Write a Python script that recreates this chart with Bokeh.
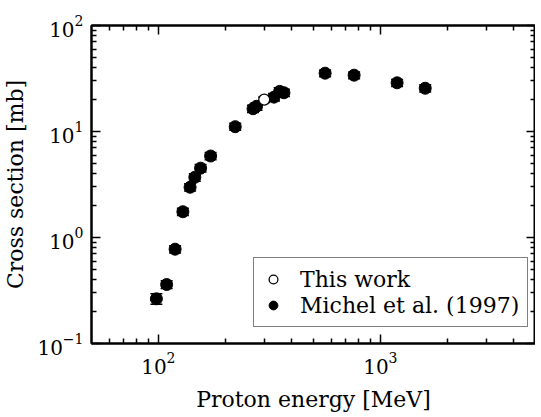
from bokeh.plotting import figure
from bokeh.models import (ColumnDataSource, LogAxis, FixedTicker, LogTicker, LogTickFormatter,
                          CustomJSTickFormatter, Whisker, TeeHead, Legend, LegendItem)
from bokeh.embed import file_html
from bokeh.resources import INLINE

# Michel et al. (1997)
michel_energy = [98, 109, 119, 129, 139, 146, 155, 172, 222, 267, 277, 332, 352, 368, 564, 762, 1190, 1593]
michel_xs = [0.264, 0.360, 0.776, 1.75, 2.98, 3.70, 4.51, 5.87, 11.1, 16.4, 17.3, 21.1, 23.9, 23.2, 35.5, 34.0, 28.8, 25.6]
michel_err = [0.03, 0.03, 0.06, 0.14, 0.24, 0.30, 0.36, 0.45, 0.85, 1.3, 1.4, 1.7, 1.9, 1.8, 2.6, 2.5, 2.2, 2.0]

# This work
this_energy = [300]
this_xs = [20.0]
this_err = [1.2]

x_major = [100, 1000]
x_minor = [60, 70, 80, 90, 200, 300, 400, 500, 600, 700, 800, 900, 2000, 3000, 4000]
y_major = [0.1, 1, 10, 100]
y_minor = [0.2, 0.3, 0.4, 0.5, 0.6, 0.7, 0.8, 0.9, 2, 3, 4, 5, 6, 7, 8, 9,
           20, 30, 40, 50, 60, 70, 80, 90]

FONT = "DejaVu Serif"

p = figure(frame_width=444, frame_height=318, x_axis_type="log", y_axis_type="log",
           x_range=(50, 5000), y_range=(0.1, 100),
           output_backend="svg", toolbar_location=None,
           min_border_left=88, min_border_right=0, min_border_top=25, min_border_bottom=10)
p.xgrid.visible = False
p.ygrid.visible = False
p.outline_line_color = "black"
p.outline_line_width = 2
p.background_fill_color = "white"
p.border_fill_color = "white"

def style(ax, labels=True):
    ax.axis_line_color = "black"
    ax.axis_line_width = 2
    ax.major_tick_in = 9
    ax.major_tick_out = 0
    ax.minor_tick_in = 5
    ax.minor_tick_out = 0
    ax.major_tick_line_width = 1.5
    ax.minor_tick_line_width = 1.5
    ax.major_tick_line_color = "black"
    ax.minor_tick_line_color = "black"
    if labels:
        ax.major_label_text_font = FONT
        ax.major_label_text_font_size = "20px"
        ax.major_label_text_color = "black"
        ax.axis_label_text_font = FONT
        ax.axis_label_text_font_size = "22px"
        ax.axis_label_text_font_style = "normal"
        ax.axis_label_text_color = "black"
    else:
        ax.formatter = CustomJSTickFormatter(code="return ''")
        ax.major_label_text_color = None
        ax.major_label_text_font_size = "1px"
        ax.major_label_standoff = 0

xa = p.xaxis[0]
xa.ticker = FixedTicker(ticks=x_major, minor_ticks=x_minor)
xa.formatter = LogTickFormatter(ticker=LogTicker())
xa.axis_label = "Proton energy [MeV]"
xa.major_label_standoff = 8
xa.axis_label_standoff = 10
style(xa)

ya = p.yaxis[0]
ya.ticker = FixedTicker(ticks=y_major, minor_ticks=y_minor)
ya.formatter = LogTickFormatter(ticker=LogTicker())
ya.axis_label = "Cross section [mb]"
ya.major_label_standoff = 8
ya.axis_label_standoff = 6
style(ya)

top = LogAxis(ticker=FixedTicker(ticks=x_major, minor_ticks=x_minor))
style(top, labels=False)
p.add_layout(top, "above")
right = LogAxis(ticker=FixedTicker(ticks=y_major, minor_ticks=y_minor))
style(right, labels=False)
p.add_layout(right, "right")

msrc = ColumnDataSource(data=dict(x=michel_energy, y=michel_xs,
                                  lo=[v - e for v, e in zip(michel_xs, michel_err)],
                                  hi=[v + e for v, e in zip(michel_xs, michel_err)]))
tsrc = ColumnDataSource(data=dict(x=this_energy, y=this_xs,
                                  lo=[v - e for v, e in zip(this_xs, this_err)],
                                  hi=[v + e for v, e in zip(this_xs, this_err)]))

for src in (msrc, tsrc):
    w = Whisker(source=src, base="x", lower="lo", upper="hi", dimension="height",
                line_color="black", line_width=1.5,
                lower_head=TeeHead(size=12, line_color="black", line_width=1.5),
                upper_head=TeeHead(size=12, line_color="black", line_width=1.5))
    p.add_layout(w)

r_m = p.scatter("x", "y", source=msrc, size=12, marker="circle",
                fill_color="black", line_color="black", line_width=1)
r_t = p.scatter("x", "y", source=tsrc, size=11, marker="circle",
                fill_color="white", line_color="black", line_width=1.3)

legend = Legend(items=[LegendItem(label="This work", renderers=[r_t]),
                       LegendItem(label="Michel et al. (1997)", renderers=[r_m])],
                location=(162, 16))
legend.label_text_font = FONT
legend.label_text_font_size = "22px"
legend.label_text_color = "black"
legend.border_line_color = "black"
legend.border_line_width = 1.5
legend.background_fill_alpha = 1
legend.padding = 8
legend.spacing = 0
legend.margin = 0
legend.glyph_width = 22
legend.label_standoff = 16
legend.label_height = 26
legend.glyph_height = 26
p.add_layout(legend, "center")

open("out.html", "w").write(file_html(p, INLINE))
